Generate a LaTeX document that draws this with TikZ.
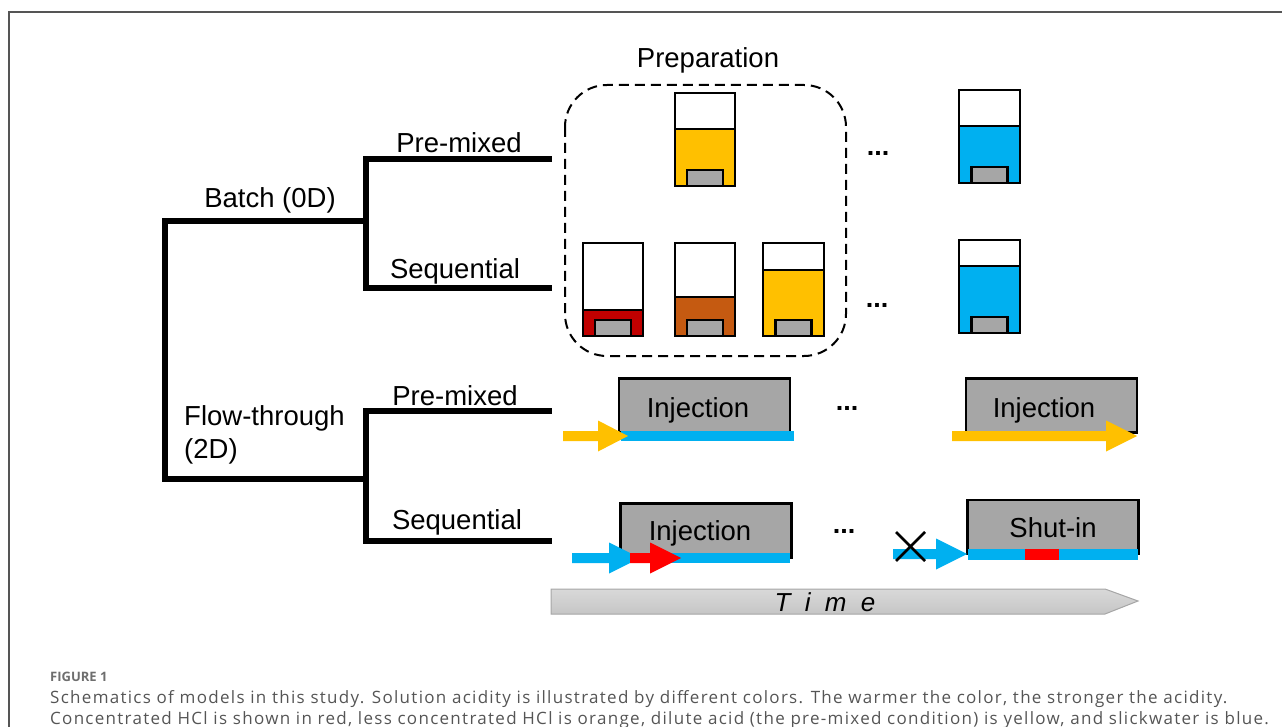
\documentclass[tikz,border=0pt]{standalone}
\usepackage{fontspec}
\setmainfont{Liberation Sans}
\newfontfamily\capfont[LetterSpace=7.6]{Open Sans}
\newfontfamily\capfontb{Open Sans}
\usetikzlibrary{shapes.geometric}
\definecolor{cyel}{HTML}{FFC000}
\definecolor{cblue}{HTML}{00B0F0}
\definecolor{cdred}{HTML}{C00000}
\definecolor{corange}{HTML}{C55A11}
\definecolor{cgray}{HTML}{A6A6A6}
\definecolor{cred}{HTML}{FF0000}
\definecolor{capgray}{HTML}{555555}
\newcommand\drawbeaker[7]{%
  % #1 name #2 xl #3 xr #4 ytop #5 ylevel #6 ybottom #7 colour
  \fill[#7] (#2,#5) rectangle (#3,#6);
  \draw[beakerline] (#2,#5) -- (#3,#5);
  \pgfmathsetmacro\bxm{(#2+#3)/2}
  \draw[beakerline, fill=cgray] (\bxm-18,#6) rectangle (\bxm+18,#6-16);
  \node[beakerbox, minimum width=#3-#2, minimum height=#6-#4] (#1) at ({(#2+#3)/2},{(#4+#6)/2}) {};
}
\newcommand\blockarrow[5]{%
  % #1 colour #2 xstart #3 xheadstart #4 xtip #5 ycentre
  \fill[#1] (#2,#5-5) -- (#3,#5-5) -- (#3,#5-15.5) -- (#4,#5) -- (#3,#5+15.5) -- (#3,#5+5) -- (#2,#5+5) -- cycle;
}
\tikzset{
  tree/.style={line width=6pt, line cap=rect},
  beakerline/.style={line width=2.4pt, draw=black},
  beakerbox/.style={draw=black, line width=2.4pt, inner sep=0pt},
  lbl/.style={font=\fontsize{27.5}{33}\selectfont, inner sep=0pt},
  injbox/.style={draw=black, fill=cgray, line width=2.4pt, minimum width=171pt, minimum height=54pt, inner sep=0pt},
  dots/.style={font=\fontsize{27}{30}\selectfont\bfseries, inner sep=0pt},
}
\begin{document}
\begin{tikzpicture}[x=1pt,y=-1pt]
\useasboundingbox (0,0) rectangle (1282,727);
% frame
\draw[capgray, line width=1.5pt] (9,727) -- (9,12) -- (1282,12);

% tree
\coordinate (root1) at (165,221);
\coordinate (root2) at (165,479);
\coordinate (b) at (366,221);
\coordinate (bt) at (366,159);
\coordinate (bb) at (366,288);
\coordinate (bpm) at (549,159);
\coordinate (bsq) at (549,288);
\coordinate (f) at (366,479);
\coordinate (ft) at (366,411);
\coordinate (fb) at (366,541);
\coordinate (fpm) at (549,411);
\coordinate (fsq) at (549,541);
\draw[tree] (b) -- (root1) -- (root2) -- (f);
\draw[tree] (bpm) -- (bt) -- (bb) -- (bsq);
\draw[tree] (fpm) -- (ft) -- (fb) -- (fsq);

\node[lbl] (lbatch) at (270,200) {Batch (0D)};
\node[lbl, align=left, anchor=north west] (lflow) at (184,405) {Flow-through\\(2D)};
\node[lbl] (lbpm) at (459,143) {Pre-mixed};
\node[lbl] (lbsq) at (455,271) {Sequential};
\node[lbl] (lfpm) at (455,396) {Pre-mixed};
\node[lbl] (lfsq) at (457,522) {Sequential};

% preparation box
\draw[line width=2pt, dash pattern=on 10pt off 6pt, rounded corners=42pt] (565,85) rectangle (846,356);
\node[lbl] (prep) at (708,60) {Preparation};

% beakers
\drawbeaker{k1}{675}{735}{93}{129}{186}{cyel}
\drawbeaker{k2}{583}{643}{243}{310}{336}{cdred}
\drawbeaker{k3}{675}{735}{243}{297}{336}{corange}
\drawbeaker{k4}{763}{824}{243}{270}{336}{cyel}
\drawbeaker{k5}{959}{1020}{90}{126}{183}{cblue}
\drawbeaker{k6}{959}{1020}{240}{266}{333}{cblue}

\node[dots] (d1) at (878,153) {...};
\node[dots] (d2) at (877,305) {...};
\node[dots] (d3) at (847,408) {...};
\node[dots] (d4) at (844,531) {...};

% flow-through pre-mixed
\node[injbox] (inj1) at (704.5,405.5) {};
\node[lbl] at (698,410) {Injection};
\fill[cblue] (621,431) rectangle (794,441);
\blockarrow{cyel}{563}{598}{628}{436}

\node[injbox] (inj2) at (1051.5,405.5) {};
\node[lbl] at (1044,410) {Injection};
\blockarrow{cyel}{952}{1106}{1137}{436}

% flow-through sequential
\node[injbox] (inj3) at (706,530.5) {};
\node[lbl] at (700,533) {Injection};
\fill[cblue] (630,553) rectangle (790,563);
\blockarrow{cblue}{572}{609}{640}{558}
\blockarrow{cred}{630}{650}{681}{558}

\node[injbox] (shut) at (1053,527) {};
\node[lbl] at (1053,528) {Shut-in};
\fill[cblue] (968,549) rectangle (1138,560);
\fill[cred] (1025,549) rectangle (1059,560);
\blockarrow{cblue}{893}{936}{967}{554}
\draw[line width=2.6pt] (896,532) -- (925,561) (896,561) -- (925,532);

% time arrow
\shade[top color=gray!30, bottom color=gray!45, draw=gray!70, line width=1pt]
  (551,589) -- (1105,589) -- (1138,601) -- (1105,614) -- (551,614) -- cycle;
\node[font=\fontsize{26}{30}\selectfont\itshape, inner sep=0pt] (time) at (825,602) {T\hspace{0.55em}i\hspace{0.55em}m\hspace{0.55em}e};

% caption
\node[anchor=base west, inner sep=0pt, font=\capfontb\fontsize{13}{14}\selectfont\bfseries, text=capgray!85] (fig) at (50,681) {FIGURE 1};
\node[anchor=base west, inner sep=0pt, font=\capfont\fontsize{17}{20}\selectfont, text=capgray] (cap1) at (50,703) {Schematics of models in this study. Solution acidity is illustrated by different colors. The warmer the color, the stronger the acidity.};
\node[anchor=base west, inner sep=0pt, font=\capfont\fontsize{17}{20}\selectfont, text=capgray] (cap2) at (50,724) {Concentrated HCl is shown in red, less concentrated HCl is orange, dilute acid (the pre-mixed condition) is yellow, and slickwater is blue.};
\end{tikzpicture}
\end{document}
